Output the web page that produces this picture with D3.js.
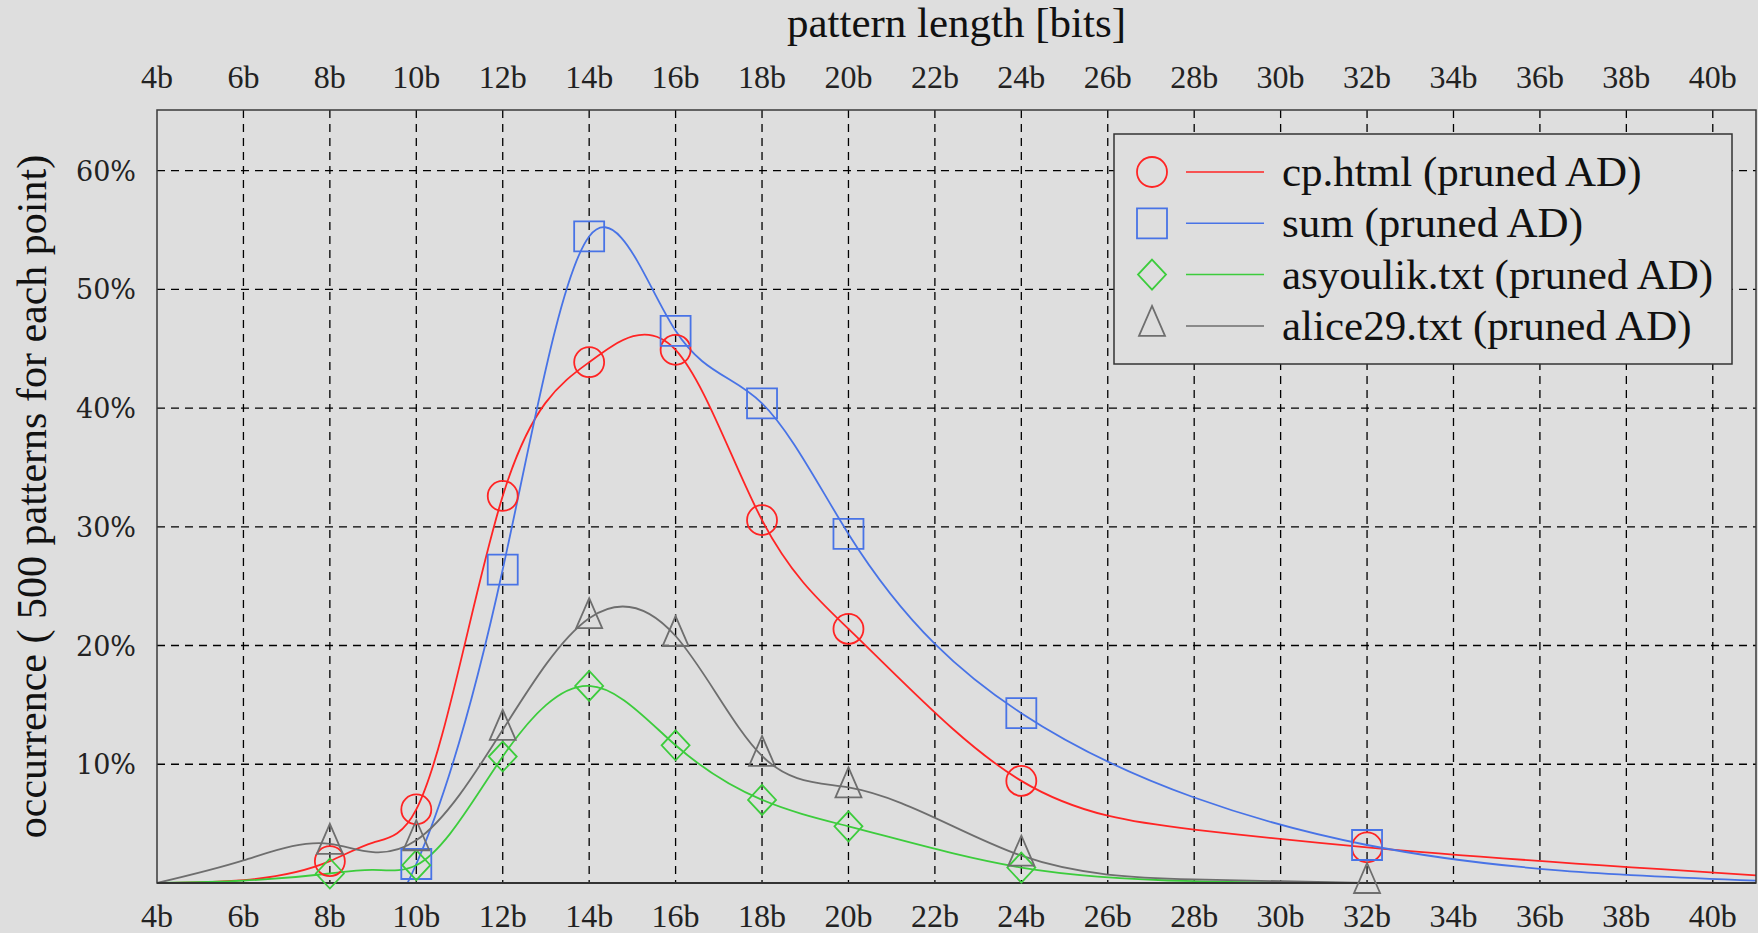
<!DOCTYPE html>
<html><head><meta charset="utf-8">
<script src="https://cdn.jsdelivr.net/npm/d3@7"></script>
<style>html,body{margin:0;padding:0;background:#dedede;overflow:hidden}</style>
</head><body><svg id="chart" width="1758" height="933"></svg>
<script>
// ---------------- data ----------------
const xTickValues = [4,6,8,10,12,14,16,18,20,22,24,26,28,30,32,34,36,38,40];
const xTickLabels = ["4b","6b","8b","10b","12b","14b","16b","18b","20b","22b","24b","26b","28b","30b","32b","34b","36b","38b","40b"];
const yTickValues = [10,20,30,40,50,60];
const yTickLabels = ["10%","20%","30%","40%","50%","60%"];

// marked points
const cpBits       = [8,10,12,14,16,18,20,24,32];
const cpHtml       = [1.84,6.2,32.6,43.86,44.9,30.56,21.4,8.6,3.0];
const sumBits      = [10,12,14,16,18,20,24,32];
const sumVals      = [1.6,26.4,54.45,46.5,40.4,29.4,14.3,3.2];
const asyoulikBits = [8,10,12,14,16,18,20,24];
const asyoulik     = [0.8,1.5,10.65,16.6,11.6,7.0,4.77,1.3];
const alice29Bits  = [8,10,12,14,16,18,20,24,32];
const alice29      = [3.3,3.6,12.9,22.3,20.8,10.7,8.05,2.3,0];

// unmarked curve knots (curve start, in-between, tail)
const cpExtra       = [[4,0],[6,0.25],[9,3.4],[28,4.5],[41,0.65]];
const sumExtra      = [[4,0],[28,7.2],[41,0.2]];
const asyoulikExtra = [[4,0],[6,0.2],[9,1.1],[28,0.15],[32,0]];
const alice29Extra  = [[4,0],[6,1.9],[9,2.6],[28,0.3]];

const seriesNames = ["cp.html (pruned AD)","sum (pruned AD)","asyoulik.txt (pruned AD)","alice29.txt (pruned AD)"];
const seriesColors = ["#ff2424","#4873e6","#3ccc3c","#6e6e6e"];

const xTitle = "pattern length [bits]";
const yTitle = "occurrence ( 500 patterns for each point)";

// ---------------- layout ----------------
const svg = d3.select("#chart");
const L = 157, R = 1756, T = 110, B = 883;
const x = d3.scaleLinear().domain([4,41]).range([L,R]);
const y = d3.scaleLinear().domain([0,65.1]).range([B,T]);
const serif = "'Liberation Serif','Times New Roman',serif";

svg.append("rect").attr("width",1758).attr("height",933).attr("fill","#dedede");

// grid
const grid = svg.append("g").attr("stroke","#000").attr("stroke-width",1.3).attr("stroke-dasharray","8,6");
grid.selectAll("line.v").data(xTickValues.filter(d=>d>4)).join("line").attr("class","v")
  .attr("x1",d=>x(d)).attr("x2",d=>x(d)).attr("y1",T).attr("y2",B);
grid.selectAll("line.h").data(yTickValues).join("line").attr("class","h")
  .attr("x1",L).attr("x2",R).attr("y1",d=>y(d)).attr("y2",d=>y(d));

// natural cubic spline of y as a function of x (d3 custom curve)
function NaturalX(ctx){ this._context = ctx; }
NaturalX.prototype = {
  areaStart(){}, areaEnd(){},
  lineStart(){ this._x=[]; this._y=[]; },
  point(a,b){ this._x.push(+a); this._y.push(+b); },
  lineEnd(){
    const X=this._x, Y=this._y, n=X.length, c=this._context;
    if(!n) return;
    c.moveTo(X[0],Y[0]);
    if(n===2){ c.lineTo(X[1],Y[1]); return; }
    const h=[]; for(let i=0;i<n-1;i++) h.push(X[i+1]-X[i]);
    const M=new Array(n).fill(0), m=n-2, cp=[], dp=[];
    for(let k=0;k<m;k++){
      const i=k+1;
      const a=h[i-1], bb=2*(h[i-1]+h[i]), cc=h[i];
      const d=6*((Y[i+1]-Y[i])/h[i]-(Y[i]-Y[i-1])/h[i-1]);
      if(k===0){ cp[k]=cc/bb; dp[k]=d/bb; }
      else { const den=bb-a*cp[k-1]; cp[k]=cc/den; dp[k]=(d-a*dp[k-1])/den; }
    }
    M[m]=dp[m-1];
    for(let k=m-2;k>=0;k--) M[k+1]=dp[k]-cp[k]*M[k+2];
    for(let i=0;i<n-1;i++){
      const hh=h[i], s=(Y[i+1]-Y[i])/hh;
      const m0=s-hh*(2*M[i]+M[i+1])/6, m1=s+hh*(M[i]+2*M[i+1])/6;
      c.bezierCurveTo(X[i]+hh/3, Y[i]+m0*hh/3, X[i+1]-hh/3, Y[i+1]-m1*hh/3, X[i+1], Y[i+1]);
    }
  }
};
const curveNaturalX = ctx => new NaturalX(ctx);

const series = [
  {bits:cpBits, vals:cpHtml, extra:cpExtra},
  {bits:sumBits, vals:sumVals, extra:sumExtra},
  {bits:asyoulikBits, vals:asyoulik, extra:asyoulikExtra},
  {bits:alice29Bits, vals:alice29, extra:alice29Extra}
].map((s,i)=>{
  const pts = s.bits.map((b,j)=>[b,s.vals[j]]);
  const knots = [...pts, ...s.extra].sort((a,b)=>a[0]-b[0]);
  return {pts, knots, color:seriesColors[i], name:seriesNames[i], idx:i};
});

svg.append("clipPath").attr("id","plotclip").append("rect")
  .attr("x",L).attr("y",T).attr("width",R-L).attr("height",B-T);

const line = d3.line().x(d=>x(d[0])).y(d=>y(d[1])).curve(curveNaturalX);
svg.append("g").attr("clip-path","url(#plotclip)")
  .selectAll("path").data(series).join("path")
  .attr("d",d=>line(d.knots)).attr("fill","none")
  .attr("stroke",d=>d.color).attr("stroke-width",1.8);

// marker shapes
function markerPath(k){
  if(k===0){ const p=d3.path(); p.arc(0,0,15,0,2*Math.PI); return p.toString(); }
  if(k===1) return "M-15,-15H15V15H-15Z";
  if(k===2) return "M0,-15L14,0L0,15L-14,0Z";
  return "M0,-20L13,10L-13,10Z";
}

// frame
svg.append("rect").attr("x",L).attr("y",T).attr("width",R-L).attr("height",B-T)
  .attr("fill","none").attr("stroke","#3a3a3a").attr("stroke-width",1.5);
svg.append("line").attr("x1",L).attr("x2",R).attr("y1",B).attr("y2",B)
  .attr("stroke","#333").attr("stroke-width",2);

// markers
series.forEach(s=>{
  svg.append("g").selectAll("path").data(s.pts).join("path")
    .attr("transform",d=>`translate(${x(d[0])},${y(d[1])})`)
    .attr("d",markerPath(s.idx)).attr("fill","none")
    .attr("stroke",s.color).attr("stroke-width",1.8);
});

// x tick labels top & bottom
const xl = svg.append("g").attr("font-family",serif).attr("font-size",32).attr("fill","#222").attr("text-anchor","middle");
xl.selectAll("text.t").data(xTickValues).join("text").attr("class","t")
  .attr("x",d=>x(d)).attr("y",88).text((d,i)=>xTickLabels[i]);
xl.selectAll("text.b").data(xTickValues).join("text").attr("class","b")
  .attr("x",d=>x(d)).attr("y",927).text((d,i)=>xTickLabels[i]);

// y tick labels
svg.append("g").attr("font-family","'DejaVu Serif',serif").attr("font-size",27).attr("fill","#222")
  .attr("text-anchor","end")
  .selectAll("text").data(yTickValues).join("text")
  .attr("x",136).attr("y",d=>y(d)+10).text((d,i)=>yTickLabels[i]);

// titles
svg.append("text").attr("x",(L+R)/2).attr("y",37).attr("text-anchor","middle")
  .attr("font-family",serif).attr("font-size",43).attr("fill","#111").text(xTitle);
svg.append("text").attr("transform",`translate(46,${(T+B)/2}) rotate(-90)`).attr("text-anchor","middle")
  .attr("font-family",serif).attr("font-size",42).attr("fill","#111").text(yTitle);

// legend
const lg = svg.append("g");
lg.append("rect").attr("x",1114).attr("y",134).attr("width",618).attr("height",230)
  .attr("fill","#dedede").attr("stroke","#333").attr("stroke-width",1.5);
const rowY = i => 172 + i*51.3;
series.forEach((s,i)=>{
  lg.append("path").attr("transform",`translate(1152,${rowY(i)})`).attr("d",markerPath(i))
    .attr("fill","none").attr("stroke",s.color).attr("stroke-width",1.8);
  lg.append("line").attr("x1",1186).attr("x2",1264).attr("y1",rowY(i)).attr("y2",rowY(i))
    .attr("stroke",s.color).attr("stroke-width",1.5);
  lg.append("text").attr("x",1282).attr("y",rowY(i)+14).attr("font-family",serif)
    .attr("font-size",43).attr("fill","#111").text(s.name);
});
</script></body></html>
